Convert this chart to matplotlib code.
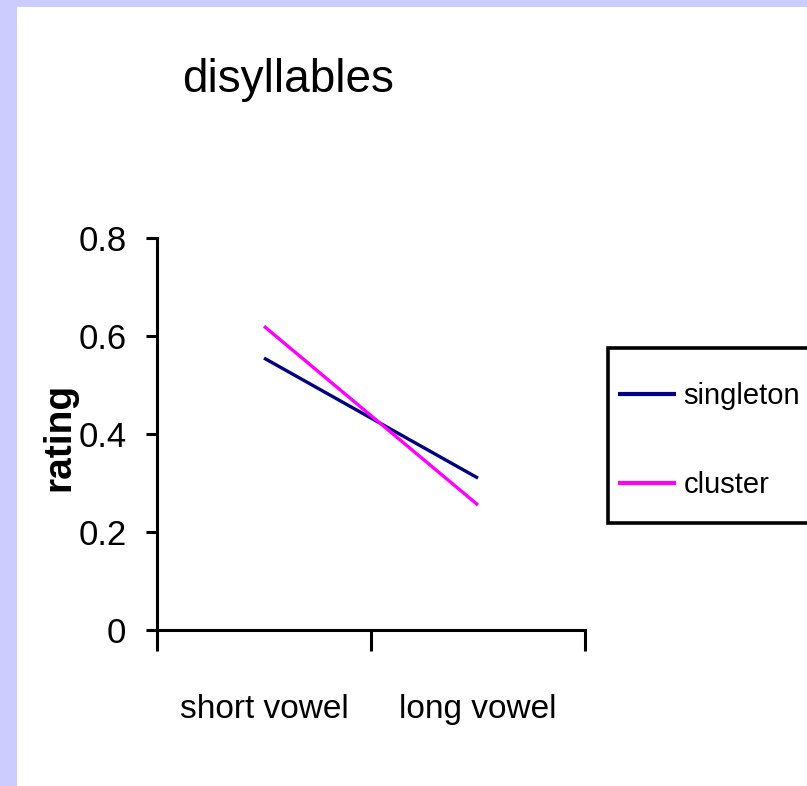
import matplotlib
matplotlib.use('Agg')
import matplotlib.pyplot as plt
from matplotlib.patches import Rectangle

categories = ['short vowel', 'long vowel']
singleton = [0.555, 0.31]
cluster = [0.62, 0.255]
y_ticks = [0, 0.2, 0.4, 0.6, 0.8]
y_tick_labels = ['0', '0.2', '0.4', '0.6', '0.8']

font = ['Liberation Sans', 'DejaVu Sans']

fig = plt.figure(figsize=(8.07, 7.86), dpi=100)
fig.patch.set_facecolor('#ccccff')
# white panel inside the lavender border
fig.patches.append(Rectangle((17 / 807, 0), 1, 1 - 7 / 786, transform=fig.transFigure,
                             facecolor='white', edgecolor='none', zorder=-5))

ax = fig.add_axes([157 / 807, 1 - 630 / 786, (585 - 157) / 807, (630 - 238) / 786])
ax.set_facecolor('none')

x = [0.5, 1.5]
ax.plot(x, singleton, color='#000080', lw=2.4, label='singleton', solid_capstyle='butt')
ax.plot(x, cluster, color='#ff00ff', lw=2.4, label='cluster', solid_capstyle='butt')

ax.set_xlim(0, 2)
ax.set_ylim(0, 0.8)
for s in ['top', 'right']:
    ax.spines[s].set_visible(False)
for s in ['left', 'bottom']:
    ax.spines[s].set_linewidth(2.2)

ax.set_yticks(y_ticks)
ax.set_yticklabels(y_tick_labels, family=font, fontsize=25)
ax.tick_params(axis='y', length=8, width=2.2, pad=14)

ax.set_xticks([0, 1, 2])
ax.set_xticklabels(['', '', ''])
ax.tick_params(axis='x', which='major', direction='out', length=15, width=2.2)
ax.set_xticks(x, minor=True)
ax.set_xticklabels(categories, minor=True, family=font, fontsize=24)
ax.tick_params(axis='x', which='minor', length=0, pad=46)

fig.text(59 / 807, 1 - 437 / 786, 'rating', rotation=90, ha='center', va='center',
         family=font, fontsize=28, fontweight='bold')

fig.text(288 / 807, 1 - 80 / 786, 'disyllables', ha='center', va='center',
         family=font, fontsize=33)

# legend frame, running off the right edge as in the original
fig.patches.append(Rectangle((608 / 807, 1 - 523 / 786), 0.3, 175 / 786,
                             transform=fig.transFigure, facecolor='white',
                             edgecolor='black', linewidth=2.6, zorder=2))
leg = fig.legend(loc='upper left', bbox_to_anchor=(618 / 807, 1 - 382 / 786),
                 prop={'family': font, 'size': 21}, frameon=False,
                 handlelength=2.0, handletextpad=0.25, labelspacing=2.1,
                 borderpad=0, borderaxespad=0)
leg.set_zorder(3)
for line in leg.get_lines():
    line.set_linewidth(3)

fig.savefig('out.png', dpi=100, facecolor=fig.get_facecolor())
